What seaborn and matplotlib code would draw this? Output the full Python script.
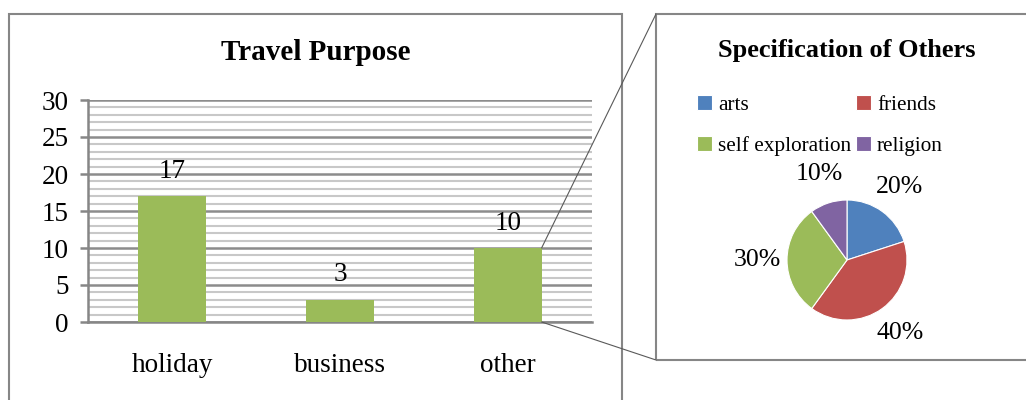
import matplotlib
matplotlib.use("Agg")
import matplotlib.pyplot as plt
import seaborn as sns
import pandas as pd
from matplotlib.patches import Rectangle, ConnectionPatch
from matplotlib.ticker import MultipleLocator

# Travel purpose counts
purposes = ["holiday", "business", "other"]
purpose_counts = [17, 3, 10]

# Breakdown of the "other" category
other_reasons = ["arts", "friends", "self exploration", "religion"]
other_shares = [20, 40, 30, 10]
reason_colors = ["#4F81BD", "#C0504D", "#9BBB59", "#8064A2"]
bar_color = "#9BBB59"

sns.set_style("white")
plt.rcParams["font.family"] = ["Liberation Serif", "DejaVu Serif"]
plt.rcParams["text.color"] = "black"
plt.rcParams["xtick.labelcolor"] = "black"
plt.rcParams["ytick.labelcolor"] = "black"

W, H = 1026, 400
fig = plt.figure(figsize=(W / 100, H / 100), dpi=100)


def fx(px):
    return px / W


def fy(py):
    return 1 - py / H


frame_color = "#868686"

# Outer frames of the two chart panels
fig.add_artist(Rectangle((fx(9), fy(430)), fx(622 - 9), (430 - 14) / H,
                         transform=fig.transFigure, fill=False,
                         ec=frame_color, lw=1.5))
fig.add_artist(Rectangle((fx(656), fy(360)), fx(1050 - 656), (360 - 14) / H,
                         transform=fig.transFigure, fill=False,
                         ec=frame_color, lw=1.5))

# ---- Bar chart ----
ax = fig.add_axes([fx(88), fy(322), fx(592 - 88), (322 - 100) / H])
df = pd.DataFrame({"purpose": purposes, "count": purpose_counts})
sns.barplot(data=df, x="purpose", y="count", color=bar_color, width=0.4,
            saturation=1, ax=ax, zorder=3, edgecolor="none")
ax.set_xlim(-0.5, 2.5)
ax.set_ylim(0, 30)
ax.yaxis.set_major_locator(MultipleLocator(5))
ax.yaxis.set_minor_locator(MultipleLocator(1))
ax.grid(axis="y", which="major", color="#8c8c8c", lw=1.8)
ax.grid(axis="y", which="minor", color="#c8c8c8", lw=1.5)
ax.grid(axis="x", visible=False)
ax.set_axisbelow(True)
for side in ["top", "right"]:
    ax.spines[side].set_visible(False)
for side in ["left", "bottom"]:
    ax.spines[side].set_color(frame_color)
    ax.spines[side].set_linewidth(1.8)
ax.tick_params(axis="y", which="major", length=6, width=1.8, color=frame_color,
               direction="out", left=True, labelsize=19.5, pad=8)
ax.tick_params(axis="y", which="minor", length=0)
ax.tick_params(axis="x", length=0, labelsize=19.5, pad=22)
ax.set_xlabel("")
ax.set_ylabel("")
ax.bar_label(ax.containers[0], labels=[str(v) for v in purpose_counts],
             padding=9, fontsize=19.5)

fig.text(fx(316), fy(52), "Travel Purpose", ha="center", va="center",
         fontsize=21, fontweight="bold")

# ---- Pie chart ----
ax2 = fig.add_axes([fx(847 - 100), fy(260 + 100), fx(200), 200 / H])
wedges, _, autotexts = ax2.pie(
    other_shares, colors=reason_colors, startangle=90, counterclock=False,
    autopct=lambda p: f"{p:.0f}%", pctdistance=1.5, radius=1,
    wedgeprops=dict(edgecolor="white", linewidth=0.8),
    textprops=dict(fontsize=18.5))
ax2.set_xlim(-1.667, 1.667)
ax2.set_ylim(-1.667, 1.667)
ax2.set_aspect("equal")
ax2.axis("off")

# Legend filled row by row: arts, friends / self exploration, religion
order = [0, 2, 1, 3]
fig.legend([wedges[i] for i in order], [other_reasons[i] for i in order],
           ncol=2, loc="upper left",
           bbox_to_anchor=(fx(697), fy(95)), frameon=False, fontsize=15.3,
           handlelength=0.7, handleheight=0.7, handletextpad=0.3,
           columnspacing=0.2, labelspacing=1.0, borderpad=0, borderaxespad=0)

fig.text(fx(847), fy(50), "Specification of Others", ha="center", va="center",
         fontsize=19, fontweight="bold")

# Connector lines from the "other" bar to the breakdown panel
other_bar = ax.patches[purposes.index("other")]
bar_right = other_bar.get_x() + other_bar.get_width()
for y_val, py in [(other_bar.get_height(), 14), (0, 360)]:
    con = ConnectionPatch(xyA=(bar_right, y_val), coordsA=ax.transData,
                          xyB=(fx(656), fy(py)), coordsB=fig.transFigure,
                          color="#595959", lw=0.8)
    fig.add_artist(con)

fig.savefig("out.png", dpi=100)
